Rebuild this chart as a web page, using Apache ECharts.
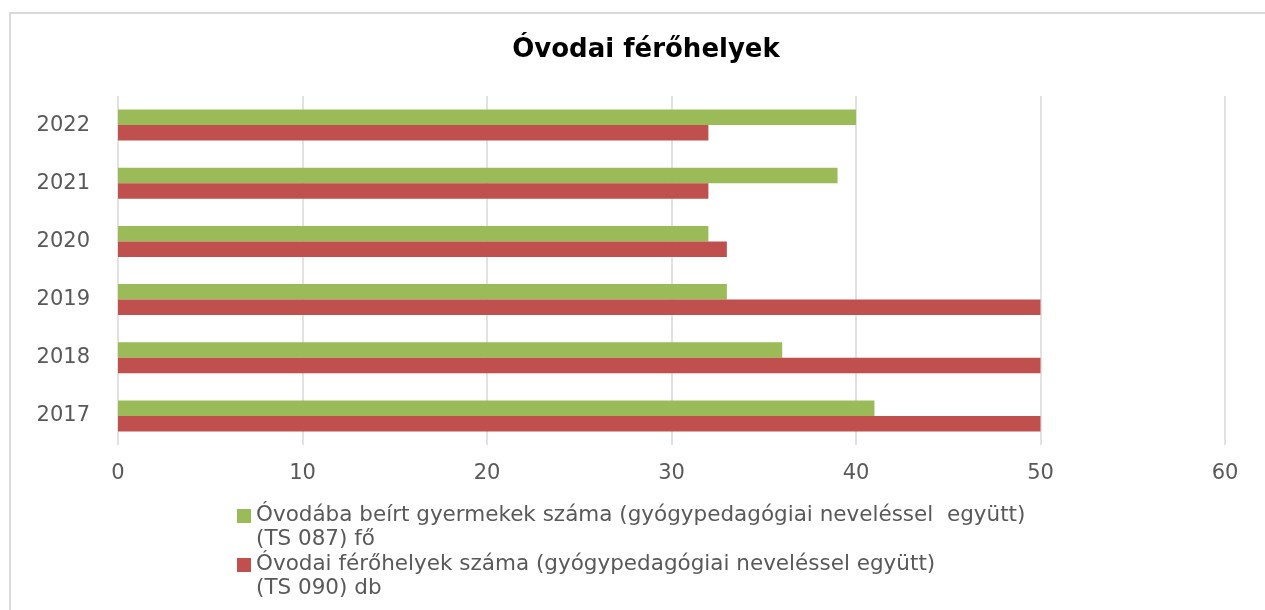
<!DOCTYPE html>
<html><head><meta charset="utf-8">
<script src="https://cdn.jsdelivr.net/npm/echarts@6/dist/echarts.min.js"></script>
<style>html,body{margin:0;padding:0;background:#fff}#c{width:1265px;height:610px}</style>
</head><body><div id="c"></div>
<script>
const titleText = 'Óvodai férőhelyek';
const years = ['2017', '2018', '2019', '2020', '2021', '2022'];
const enrolledName = 'Óvodába beírt gyermekek száma (gyógypedagógiai neveléssel  együtt)\n(TS 087) fő';
const enrolled = [41, 36, 33, 32, 39, 40];
const placesName = 'Óvodai férőhelyek száma (gyógypedagógiai neveléssel együtt)\n(TS 090) db';
const places = [50, 50, 50, 33, 32, 32];
const xTicks = { min: 0, max: 60, interval: 10 };

const labelColor = '#595959';
const font = 'DejaVu Sans';
const legendIcon = 'path://M0,0L0.001,0M0,6H14V20H0ZM0,49L0.001,49';

const chart = echarts.init(document.getElementById('c'), null, { renderer: 'canvas' });
chart.setOption({
  animation: false,
  backgroundColor: '#fff',
  graphic: [{
    type: 'rect', silent: true,
    shape: { x: 10, y: 13, width: 1300, height: 640 },
    style: { fill: 'none', stroke: '#d9d9d9', lineWidth: 2 }
  }],
  title: {
    text: titleText, left: 641, top: 32, textAlign: 'center',
    textStyle: { fontFamily: font, fontWeight: 'bold', fontSize: 26, color: '#000' }
  },
  legend: {
    orient: 'vertical', left: 232, top: 498, itemGap: 0,
    itemWidth: 14, itemHeight: 49, icon: legendIcon,
    textStyle: { fontFamily: font, fontSize: 21.5, color: labelColor, lineHeight: 24.5 },
    data: [enrolledName, placesName]
  },
  grid: { left: 118, right: 40, top: 96, bottom: 165, containLabel: false },
  xAxis: {
    type: 'value', min: xTicks.min, max: xTicks.max, interval: xTicks.interval,
    axisLine: { show: false }, axisTick: { show: false },
    splitLine: { lineStyle: { color: '#d9d9d9', width: 1.5 } },
    axisLabel: { margin: 18, color: labelColor, fontFamily: font, fontSize: 21 }
  },
  yAxis: {
    type: 'category', data: years,
    axisLine: { show: false }, axisTick: { show: false },
    axisLabel: { margin: 28, color: labelColor, fontFamily: font, fontSize: 21 }
  },
  series: [
    { name: enrolledName, type: 'bar', data: enrolled, barWidth: 15.5, barGap: '0%',
      itemStyle: { color: '#9BBB59' } },
    { name: placesName, type: 'bar', data: places, barWidth: 15.5, barGap: '0%',
      itemStyle: { color: '#C0504D' } }
  ]
});
</script></body></html>
